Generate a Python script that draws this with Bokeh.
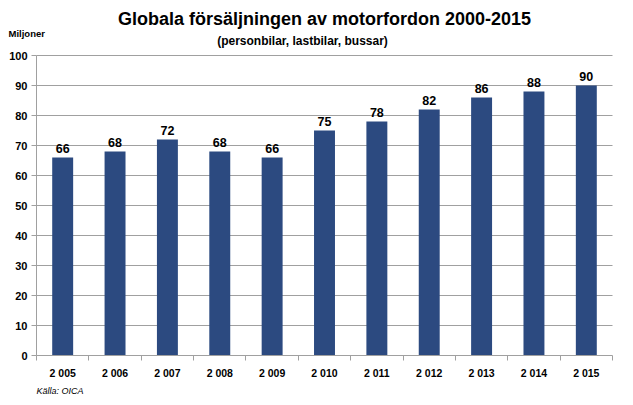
from bokeh.plotting import figure
from bokeh.models import FixedTicker, Range1d
from bokeh.embed import file_html
from bokeh.resources import INLINE
from bokeh.core.properties import value

years = ["2 005", "2 006", "2 007", "2 008", "2 009", "2 010", "2 011", "2 012", "2 013", "2 014", "2 015"]
sales = [66, 68, 72, 68, 66, 75, 78, 82, 86, 88, 90]
y_ticks = [0, 10, 20, 30, 40, 50, 60, 70, 80, 90, 100]

title_text = "Globala försäljningen av motorfordon 2000-2015"
subtitle_text = "(personbilar, lastbilar, bussar)"
unit_text = "Miljoner"
source_text = "Källa: OICA"

n = len(years)
centers = [i + 0.5 for i in range(n)]
bounds = [float(i) for i in range(n + 1)]

FONT = "Liberation Sans"
W, H = 625, 397
# plot area in page pixels
PL, PR, PT, PB = 36, 612, 55, 355
cat_px = (PR - PL) / n
val_px = (PB - PT) / 100.0

def dx(px):
    return (px - PL) / cat_px

def dy(py):
    return (PB - py) / val_px

p = figure(width=W, height=H, output_backend="svg", toolbar_location=None,
           x_range=Range1d(dx(0), dx(W)), y_range=Range1d(dy(H), dy(0)),
           min_border=0)
p.outline_line_color = None
p.background_fill_color = "white"
p.border_fill_color = "white"

# gridlines at the y ticks, spanning the category axis
grid_y = [t for t in y_ticks if t > 0]
p.segment(x0=[0] * len(grid_y), x1=[n] * len(grid_y), y0=grid_y, y1=grid_y,
          line_color="#A0A0A0", line_width=1)

p.vbar(x=centers, top=sales, width=0.4, color="#2C4A80", line_color=None)
p.text(x=centers, y=[v + 1.4 for v in sales], text=[str(v) for v in sales],
       text_align="center", text_baseline="bottom", text_font=value(FONT),
       text_font_style="bold", text_font_size="12.5px", text_color="black")

# x axis at y = 0
p.xaxis.fixed_location = 0
p.xaxis.bounds = (0, n)
p.xaxis.ticker = FixedTicker(ticks=centers, minor_ticks=bounds)
p.xaxis.major_label_overrides = {c: y for c, y in zip(centers, years)}
p.xaxis.major_tick_line_color = None
p.xaxis.minor_tick_line_color = "#A0A0A0"
p.xaxis.minor_tick_in = 0
p.xaxis.minor_tick_out = 5
p.xaxis.axis_line_color = "#A0A0A0"
p.xaxis.major_label_text_font = FONT
p.xaxis.major_label_text_font_style = "bold"
p.xaxis.major_label_text_font_size = "10.5px"
p.xaxis.major_label_text_color = "black"
p.xaxis.major_label_standoff = 5
p.xgrid.grid_line_color = None

# y axis at x = 0
p.yaxis.fixed_location = 0
p.yaxis.bounds = (0, 100)
p.yaxis.ticker = FixedTicker(ticks=y_ticks)
p.yaxis.minor_tick_line_color = None
p.yaxis.major_tick_line_color = "#A0A0A0"
p.yaxis.major_tick_in = 0
p.yaxis.major_tick_out = 5
p.yaxis.axis_line_color = "#A0A0A0"
p.yaxis.major_label_text_font = FONT
p.yaxis.major_label_text_font_style = "bold"
p.yaxis.major_label_text_font_size = "11px"
p.yaxis.major_label_text_color = "black"
p.yaxis.major_label_standoff = 4
p.ygrid.grid_line_color = None

def add_text(px, py, text, align, size, style):
    p.text(x=[dx(px)], y=[dy(py)], text=[text], text_align=align, text_baseline="middle",
           text_font=value(FONT), text_font_style=style, text_font_size=size, text_color="black")

add_text(324, 18, title_text, "center", "18px", "bold")
add_text(302, 40, subtitle_text, "center", "12px", "bold")
add_text(8, 33, unit_text, "left", "9.5px", "bold")
add_text(36, 390, source_text, "left", "9px", "italic")

open("out.html", "w").write(file_html(p, INLINE))
